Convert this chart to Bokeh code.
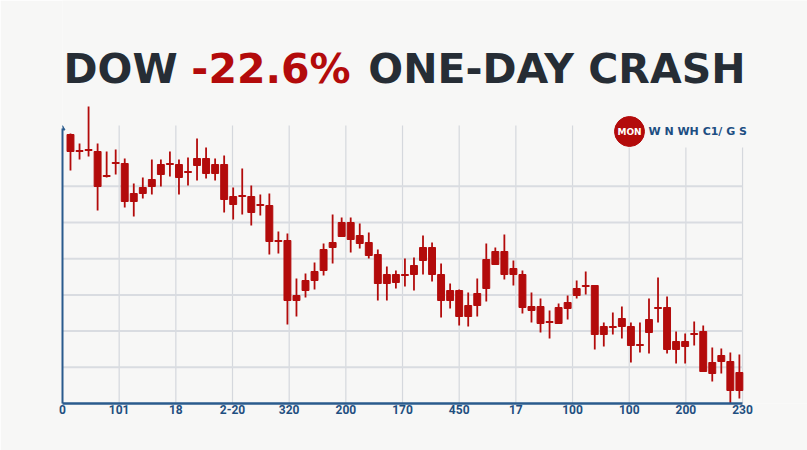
from bokeh.plotting import figure
from bokeh.models import Range1d, FixedTicker, ColumnDataSource
from bokeh.core.properties import value
from bokeh.embed import file_html
from bokeh.resources import INLINE
import numpy as np

# ---------------- data ----------------
opens = [269, 253, 254, 252, 228, 241, 240, 210, 216, 224,
         239, 240, 239, 232, 245, 245, 239, 239, 207, 208,
         207, 199, 198, 163, 163, 108, 123, 132, 154, 161,
         181, 181, 168, 161, 149, 129, 129, 129, 138, 156,
         156, 129, 113, 113, 98, 110, 144, 152, 152, 135,
         129, 97, 97, 82, 96, 101, 115, 118, 118, 77,
         77, 85, 77, 59, 84, 96, 96, 62, 62, 70,
         72, 41, 48, 42, 31]
closes = [252, 252, 253, 217, 227, 240, 202, 202, 210, 217,
          229, 239, 226, 231, 238, 230, 230, 204, 199, 207,
          191, 198, 162, 162, 103, 103, 113, 123, 133, 156,
          167, 164, 160, 148, 120, 120, 121, 128, 129, 143,
          129, 103, 103, 87, 87, 98, 115, 139, 129, 129,
          96, 93, 80, 81, 80, 95, 108, 117, 69, 69,
          76, 77, 58, 58, 71, 95, 54, 54, 57, 69,
          32, 30, 42, 13, 13]
highs = [270, 260, 297, 260, 252, 254, 245, 220, 226, 244,
         244, 252, 244, 246, 265, 256, 245, 248, 216, 235,
         218, 209, 210, 172, 170, 125, 130, 141, 160, 189,
         186, 186, 180, 171, 154, 137, 133, 145, 146, 168,
         161, 140, 120, 114, 111, 125, 160, 156, 169, 143,
         133, 111, 105, 93, 100, 108, 123, 132, 118, 81,
         91, 97, 81, 81, 105, 126, 107, 72, 70, 82,
         78, 56, 55, 51, 49]
lows = [233, 244, 247, 193, 226, 229, 196, 187, 205, 209,
        217, 227, 209, 218, 223, 225, 223, 191, 184, 189,
        178, 188, 149, 150, 79, 87, 106, 114, 128, 140,
        167, 151, 155, 145, 103, 103, 115, 117, 113, 129,
        122, 86, 95, 78, 77, 87, 102, 139, 124, 118,
        90, 81, 71, 65, 80, 84, 105, 109, 54, 57,
        69, 65, 41, 51, 50, 81, 50, 40, 40, 58,
        32, 22, 30, -4, 5]

x_tick_labels = ["0", "101", "18", "2-20", "320", "200", "170",
                 "450", "17", "100", "100", "200", "230"]
title_left = "DOW"
title_mid = "-22.6%"
title_right = "ONE-DAY CRASH"
legend_badge = "MON"
legend_text = "W N WH C1/ G S"

# ---------------- layout ----------------
RED = "#b30b0b"
DARK = "#262d35"
BLUE = "#2a5b8d"
BG = "#f7f7f6"

n = len(opens)
first_x = 0.141
step = 0.1595
xs = first_x + step * np.arange(n)

src = ColumnDataSource(dict(x=xs, o=opens, c=closes, h=highs, l=lows))

p = figure(width=807, height=450, output_backend="svg", toolbar_location=None,
           x_range=Range1d(0, 13.146), y_range=Range1d(0, 403),
           min_border_left=62, min_border_right=0, min_border_top=0,
           min_border_bottom=47)
p.background_fill_color = BG
p.border_fill_color = BG
p.outline_line_color = None
p.xgrid.visible = False
p.ygrid.visible = False

# grid lines
x_ticks = list(range(len(x_tick_labels)))
grid_tops = [278] * 10 + [256] * 3
y_grid = [36.2 * k for k in range(1, 7)]
p.segment(x0=x_ticks[1:], y0=[0] * 12, x1=x_ticks[1:], y1=grid_tops[1:],
          line_color="#d5d8dd", line_width=1.2)
p.segment(x0=[0] * len(y_grid), y0=y_grid, x1=[x_ticks[-1]] * len(y_grid), y1=y_grid,
          line_color="#d9dce1", line_width=2)

# axes
p.xaxis.bounds = (0, x_ticks[-1])
p.xaxis.ticker = FixedTicker(ticks=x_ticks)
p.xaxis.major_label_overrides = {t: lab for t, lab in zip(x_ticks, x_tick_labels)}
p.xaxis.axis_line_color = BLUE
p.xaxis.axis_line_width = 2.5
p.xaxis.major_tick_line_color = None
p.xaxis.minor_tick_line_color = None
p.xaxis.major_tick_out = 0
p.xaxis.major_label_standoff = 1
p.xaxis.major_label_text_color = "#1f4f80"
p.xaxis.major_label_text_font = "Roboto"
p.xaxis.major_label_text_font_style = "bold"
p.xaxis.major_label_text_font_size = "12px"

p.yaxis.bounds = (0, 275)
p.yaxis.ticker = FixedTicker(ticks=[])
p.yaxis.axis_line_color = BLUE
p.yaxis.axis_line_width = 2
p.yaxis.major_tick_line_color = None
p.yaxis.minor_tick_line_color = None
p.yaxis.major_label_text_font_size = "0px"
p.scatter(x=[0], y=[275], marker="triangle", size=5, color=BLUE)

# candles
p.segment(x0="x", y0="h", x1="x", y1="l", source=src, line_color=RED, line_width=1.8)
p.vbar(x="x", width=0.122, top="o", bottom="c", source=src,
       fill_color=RED, line_color=RED, line_width=1)

# title
ty = 335
p.text(x=[0.0176], y=[ty], text=[title_left], text_font=value("DejaVu Sans"),
       text_font_style="bold", text_font_size="41px", text_color=DARK,
       text_align="left", text_baseline="middle")
p.text(x=[3.679], y=[ty], text=[title_mid], text_font=value("DejaVu Sans"),
       text_font_style="bold", text_font_size="41px", text_color=RED,
       text_align="center", text_baseline="middle")
p.text(x=[12.052], y=[ty], text=[title_right], text_font=value("DejaVu Sans"),
       text_font_style="bold", text_font_size="41px", text_color=DARK,
       text_align="right", text_baseline="middle")

# legend
p.scatter(x=[10.005], y=[272], size=30, color=RED)
p.text(x=[10.005], y=[272], text=[legend_badge], text_font=value("DejaVu Sans"),
       text_font_style="bold", text_font_size="9px", text_color="white",
       text_align="center", text_baseline="middle")
p.text(x=[10.34], y=[272], text=[legend_text], text_font=value("DejaVu Sans"),
       text_font_style="bold", text_font_size="11px", text_color="#1d4e82",
       text_align="left", text_baseline="middle")

open("out.html", "w").write(file_html(p, INLINE))
